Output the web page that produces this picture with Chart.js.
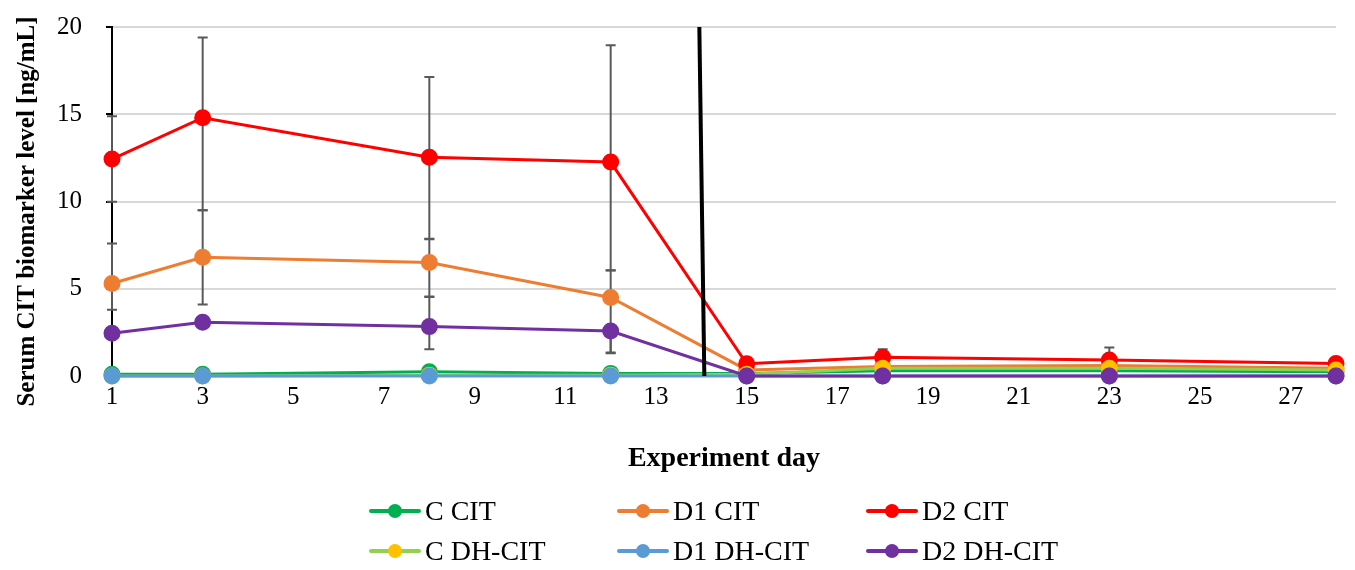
<!DOCTYPE html>
<html>
<head>
<meta charset="utf-8">
<script src="https://cdn.jsdelivr.net/npm/chart.js@4.4.1/dist/chart.umd.min.js"></script>
<style>
  html, body { margin: 0; padding: 0; background: #fff; }
  #wrap { position: relative; width: 1355px; height: 570px; }
  #legend { position: absolute; left: 0; top: 0; width: 1355px; height: 570px; pointer-events: none;
            font-family: "Liberation Serif", serif; font-size: 28px; color: #000; }
  .lg-item { position: absolute; height: 30px; line-height: 30px; white-space: nowrap; }
  .lg-sym { position: absolute; left: 0; top: 13px; width: 52px; height: 4px; border-radius: 2px; }
  .lg-dot { position: absolute; left: 19px; top: 8px; width: 14px; height: 14px; border-radius: 50%; }
  .lg-text { position: absolute; left: 56px; top: 0; }
</style>
</head>
<body>
<div id="wrap">
  <canvas id="myChart" width="1355" height="570"></canvas>
  <div id="legend"></div>
</div>
<script>
// experiment days with measurements
var days = [1, 3, 8, 12, 15, 18, 23, 28];
var xTicks = [1, 3, 5, 7, 9, 11, 13, 15, 17, 19, 21, 23, 25, 27];
var switchDay = 14;
var yTitle = 'Serum CIT biomarker level [ng/mL]';

var cCit    = [0.10, 0.10, 0.25, 0.15, 0.15, 0.30, 0.30, 0.25];
var d1Cit   = [5.30, 6.80, 6.50, 4.50, 0.35, 0.55, 0.60, 0.45];
var d2Cit   = [12.43, 14.80, 12.53, 12.26, 0.70, 1.08, 0.92, 0.72];
var cDhCit  = [0.00, 0.00, 0.05, 0.05, 0.10, 0.45, 0.45, 0.35];
var d1DhCit = [0, 0, 0, 0, 0, 0, 0, 0];
var d2DhCit = [2.45, 3.08, 2.83, 2.58, 0, 0, 0, 0];

// error bars (up / down lengths)
var d1CitUp     = [2.30, 2.70, 1.33, 1.55, 0, 0, 0, 0];
var d1CitDown   = [1.50, 2.70, 1.94, 3.20, 0, 0, 0, 0];
var d2CitUp     = [2.45, 4.60, 4.60, 6.70, 0, 0.45, 0.72, 0.30];
var d2CitDown   = [2.45, 5.30, 4.67, 6.20, 0, 0, 0, 0];
var d2DhCitUp   = [0, 0, 1.70, 0, 0, 0, 0, 0];
var d2DhCitDown = [0, 0, 1.29, 1.24, 0, 0, 0, 0];

function pts(vals) {
    return vals.map(function(v, i) { return { x: days[i], y: v }; });
}

function series(label, vals, lineColor, markerColor, up, down, n) {
    return {
        label: label,
        data: pts(vals),
        errUp: up,
        errDown: down,
        borderColor: lineColor,
        backgroundColor: markerColor,
        pointBackgroundColor: markerColor,
        pointBorderColor: markerColor,
        borderWidth: 3,
        pointRadius: 7,
        pointHoverRadius: 7,
        tension: 0,
        clip: false,
        order: 6 - n   // later series drawn on top, like Excel
    };
}

var datasets = [
    series('C CIT',     cCit,    '#00B050', '#00B050', null, null, 0),
    series('D1 CIT',    d1Cit,   '#ED7D31', '#ED7D31', d1CitUp, d1CitDown, 1),
    series('D2 CIT',    d2Cit,   '#FF0000', '#FF0000', d2CitUp, d2CitDown, 2),
    series('C DH-CIT',  cDhCit,  '#92D050', '#FFC000', null, null, 3),
    series('D1 DH-CIT', d1DhCit, '#5B9BD5', '#5B9BD5', null, null, 4),
    series('D2 DH-CIT', d2DhCit, '#7030A0', '#7030A0', d2DhCitUp, d2DhCitDown, 5)
];

// error bars, the black divider line at day 14, and the y title
var extras = {
    id: 'extras',
    beforeDatasetsDraw: function(chart) {
        var c = chart.ctx, xs = chart.scales.x, ys = chart.scales.y;
        c.save();
        c.strokeStyle = '#595959';
        c.lineWidth = 2;
        chart.data.datasets.forEach(function(ds) {
            if (!ds.errUp) return;
            ds.data.forEach(function(p, i) {
                var px = xs.getPixelForValue(p.x);
                var mid = ys.getPixelForValue(p.y);
                c.beginPath();
                if (ds.errUp[i]) {
                    var top = ys.getPixelForValue(p.y + ds.errUp[i]);
                    c.moveTo(px, mid); c.lineTo(px, top);
                    c.moveTo(px - 5, top); c.lineTo(px + 5, top);
                }
                if (ds.errDown[i]) {
                    var lo = p.y - ds.errDown[i];
                    var bot = ys.getPixelForValue(Math.max(lo, 0));
                    c.moveTo(px, mid); c.lineTo(px, bot);
                    if (lo > 0) { c.moveTo(px - 5, bot); c.lineTo(px + 5, bot); }
                }
                c.stroke();
            });
        });
        c.restore();
    },
    afterDatasetsDraw: function(chart) {
        var c = chart.ctx, xs = chart.scales.x, ys = chart.scales.y;
        var px = xs.getPixelForValue(switchDay);
        c.save();
        c.strokeStyle = '#000';
        c.lineWidth = 4;
        c.beginPath();
        c.moveTo(px - 2, ys.getPixelForValue(20));
        c.lineTo(px + 3, ys.getPixelForValue(0));
        c.stroke();
        c.restore();
    },
    afterDraw: function(chart) {
        var c = chart.ctx, ys = chart.scales.y;
        c.save();
        c.translate(28, (ys.top + ys.bottom) / 2 + 10);
        c.rotate(-Math.PI / 2);
        c.font = 'bold 25px "Liberation Serif"';
        c.fillStyle = '#000';
        c.textAlign = 'center';
        c.textBaseline = 'middle';
        c.fillText(yTitle, 0, 0);
        c.restore();
    }
};

var serif = 'Liberation Serif';
var ctx = document.getElementById('myChart').getContext('2d');

var myChart = new Chart(ctx, {
    type: 'line',
    data: { datasets: datasets },
    options: {
        responsive: false,
        animation: false,
        layout: { padding: { left: 12, right: 19, top: 27, bottom: 94 } },
        plugins: {
            legend: { display: false },
            tooltip: { enabled: false }
        },
        scales: {
            x: {
                type: 'linear',
                min: 1,
                max: 28,
                afterBuildTicks: function(axis) {
                    axis.ticks = xTicks.map(function(v) { return { value: v }; });
                },
                afterFit: function(axis) {
                    axis.height = 100;
                    axis.paddingLeft = 0;
                    axis.paddingRight = 0;
                },
                grid: { display: false, drawTicks: false },
                border: { display: false },
                ticks: { color: '#000', padding: 6, font: { family: serif, size: 25 }, maxRotation: 0 },
                title: {
                    display: true,
                    text: 'Experiment day',
                    color: '#000',
                    padding: { top: 0, bottom: 0 },
                    font: { family: serif, size: 28, weight: 'bold' }
                }
            },
            y: {
                min: 0,
                max: 20,
                afterFit: function(axis) {
                    axis.width = 100;
                    axis.paddingTop = 0;
                    axis.paddingBottom = 0;
                },
                grid: { color: '#D9D9D9', lineWidth: 2, tickColor: '#000', tickLength: 6 },
                border: { display: true, color: '#000', width: 2 },
                ticks: { stepSize: 5, color: '#000', padding: 24, font: { family: serif, size: 25 } },
                title: { display: false }
            }
        }
    },
    plugins: [extras]
});

// legend: 3 columns x 2 rows, built from the datasets
var legendCols = [369, 617, 866];
var legendRows = [496, 536];
var box = document.getElementById('legend');
datasets.forEach(function(ds, i) {
    var item = document.createElement('div');
    item.className = 'lg-item';
    item.style.left = legendCols[i % 3] + 'px';
    item.style.top = legendRows[Math.floor(i / 3)] + 'px';
    item.innerHTML = '<div class="lg-sym" style="background:' + ds.borderColor + '"></div>' +
        '<div class="lg-dot" style="background:' + ds.pointBackgroundColor + '"></div>' +
        '<div class="lg-text">' + ds.label + '</div>';
    box.appendChild(item);
});
</script>
</body>
</html>
